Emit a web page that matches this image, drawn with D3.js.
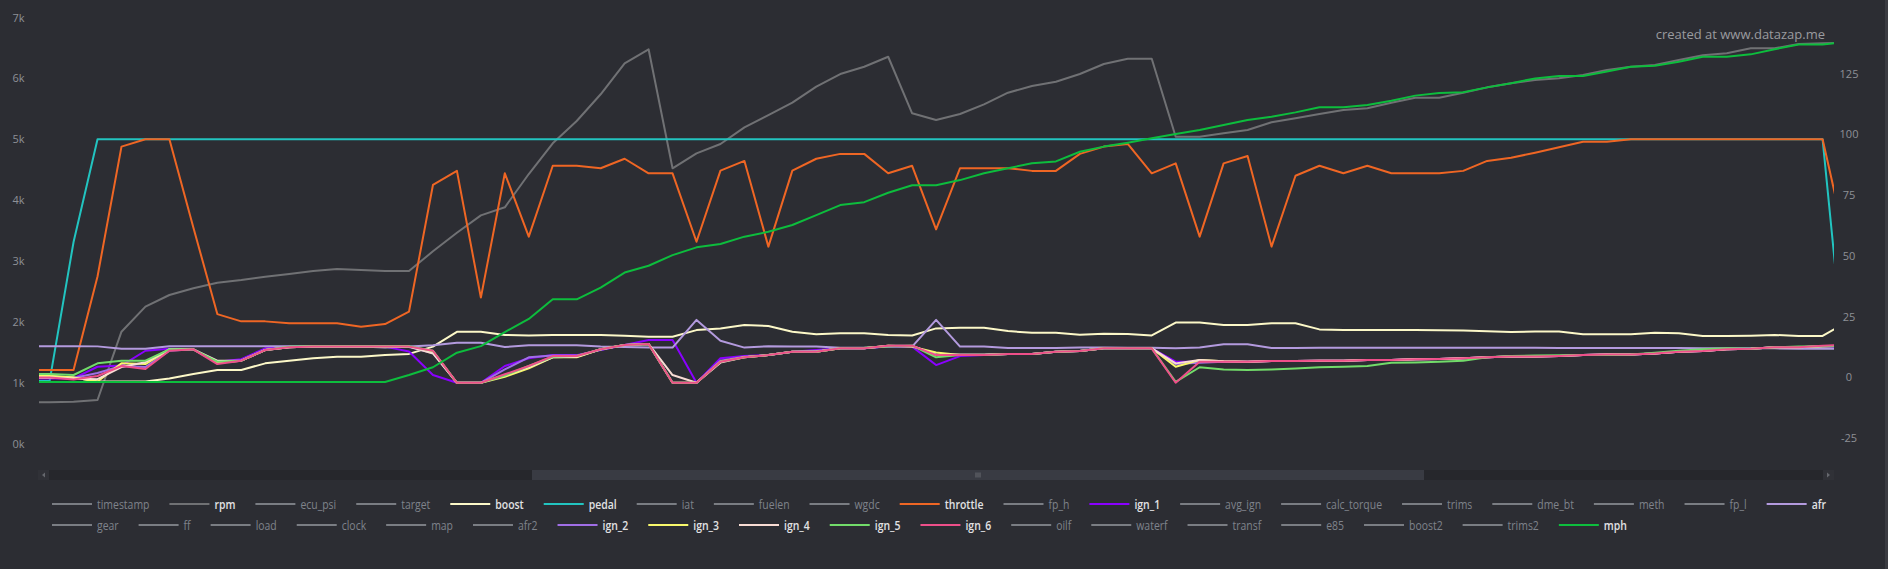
<!DOCTYPE html>
<html>
<head>
<meta charset="utf-8">
<script src="https://cdn.jsdelivr.net/npm/d3@7"></script>
<style>
  html, body { margin: 0; padding: 0; background: #2c2d33; overflow: hidden; }
  svg { display: block; }
</style>
</head>
<body>
<script>
// one sample every ~24px; first and last samples sit just outside the visible window
var rpm = [669, 669, 679, 707, 1829, 2240, 2432, 2542, 2634, 2678,
  2733, 2777, 2826, 2859, 2843, 2826, 2826, 3150, 3454, 3741,
  3873, 4420, 4924, 5291, 5730, 6239, 6469, 4514, 4760, 4913,
  5187, 5389, 5592, 5855, 6063, 6183, 6347, 5417, 5307, 5406,
  5565, 5756, 5866, 5937, 6063, 6227, 6315, 6315, 5033, 5033,
  5089, 5143, 5270, 5335, 5406, 5472, 5499, 5592, 5674, 5674,
  5756, 5844, 5910, 5964, 5992, 6047, 6129, 6183, 6211, 6293,
  6370, 6403, 6485, 6485, 6556, 6567, 6577];

var boost = [0.3, 0.3, -0.3, -2.0, -2.0, -2.0, -0.7, 1.1, 2.8, 2.8,
  5.5, 6.6, 7.6, 8.2, 8.2, 8.9, 9.4, 12.4, 18.5, 18.5,
  17.2, 17.0, 17.2, 17.2, 17.2, 16.9, 16.5, 16.5, 19.2, 19.9,
  21.3, 20.9, 18.5, 17.5, 17.9, 17.9, 17.2, 17.0, 19.9, 20.2,
  20.2, 18.8, 18.1, 18.1, 17.3, 17.7, 17.6, 17.0, 22.3, 22.3,
  21.3, 21.3, 22.0, 22.0, 19.5, 19.2, 19.2, 19.2, 19.2, 19.1,
  19.0, 18.7, 18.4, 18.6, 18.6, 17.5, 17.5, 17.5, 18.1, 17.9,
  16.8, 16.8, 16.9, 17.2, 16.8, 16.8, 22.5];

var pedal = [-1.8, -1.8, 55.5, 97.8, 97.8, 97.8, 97.8, 97.8, 97.8, 97.8,
  97.8, 97.8, 97.8, 97.8, 97.8, 97.8, 97.8, 97.8, 97.8, 97.8,
  97.8, 97.8, 97.8, 97.8, 97.8, 97.8, 97.8, 97.8, 97.8, 97.8,
  97.8, 97.8, 97.8, 97.8, 97.8, 97.8, 97.8, 97.8, 97.8, 97.8,
  97.8, 97.8, 97.8, 97.8, 97.8, 97.8, 97.8, 97.8, 97.8, 97.8,
  97.8, 97.8, 97.8, 97.8, 97.8, 97.8, 97.8, 97.8, 97.8, 97.8,
  97.8, 97.8, 97.8, 97.8, 97.8, 97.8, 97.8, 97.8, 97.8, 97.8,
  97.8, 97.8, 97.8, 97.8, 97.8, 97.8, -2.0];

var throttle = [2.8, 2.8, 2.8, 41.3, 94.8, 97.8, 97.8, 61.5, 25.8, 22.8,
  22.8, 22.0, 22.0, 22.0, 20.6, 21.7, 26.8, 79.0, 84.8, 32.6,
  83.8, 57.7, 86.9, 86.9, 85.9, 89.8, 83.8, 83.8, 55.6, 84.9,
  88.9, 53.6, 84.9, 89.8, 91.8, 91.8, 83.8, 86.9, 60.7, 85.9,
  85.9, 85.9, 84.8, 84.8, 91.8, 94.8, 95.9, 83.8, 87.9, 57.7,
  87.9, 90.9, 53.6, 82.8, 86.9, 83.8, 86.9, 83.8, 83.8, 83.8,
  84.8, 88.9, 90.2, 92.3, 94.5, 96.8, 96.8, 97.8, 97.8, 97.8,
  97.8, 97.8, 97.8, 97.8, 97.8, 97.8, 54.0];

var ign_1 = [-0.7, -0.7, -0.7, 4.1, 4.6, 10.7, 11.5, 11.3, 6.2, 7.2,
  11.7, 12.4, 12.4, 12.4, 12.4, 12.4, 10.4, 0.7, -2.5, -2.5,
  4.4, 7.6, 8.9, 8.9, 11.0, 13.1, 15.1, 15.1, -2.5, 7.6,
  8.5, 8.9, 10.3, 11.0, 11.7, 11.7, 12.4, 12.4, 4.8, 8.5,
  8.9, 9.4, 9.4, 10.3, 10.6, 11.7, 11.7, 11.7, 6.2, 6.2,
  6.2, 6.2, 6.5, 6.5, 6.6, 6.6, 6.9, 6.9, 7.2, 7.3,
  7.6, 8.0, 8.3, 8.3, 8.5, 8.9, 9.2, 9.2, 9.6, 10.3,
  10.6, 11.3, 11.5, 12.1, 12.1, 12.4, 12.4];

var afr = [12.6, 12.6, 12.6, 12.5, 11.5, 11.5, 12.6, 12.6, 12.6, 12.6,
  12.6, 12.6, 12.6, 12.6, 12.4, 12.0, 12.4, 13.0, 14.0, 14.0,
  12.2, 13.0, 13.0, 13.0, 12.4, 12.2, 12.0, 12.0, 23.4, 14.8,
  12.0, 12.6, 12.4, 12.4, 11.9, 11.9, 12.4, 12.4, 23.4, 12.4,
  12.4, 11.8, 11.8, 11.8, 12.0, 12.0, 11.9, 11.9, 11.7, 12.0,
  13.4, 13.4, 11.8, 11.8, 11.9, 11.9, 11.9, 11.9, 11.9, 11.9,
  11.9, 11.9, 11.9, 11.9, 11.8, 11.8, 11.8, 11.8, 11.8, 11.8,
  11.7, 11.7, 11.7, 11.7, 11.5, 11.5, 11.5];

var ign_2 = [-0.5, -0.5, -0.5, 1.5, 4.4, 4.0, 10.7, 11.3, 5.8, 6.6,
  11.0, 12.1, 12.4, 12.4, 12.4, 12.4, 12.2, 9.8, -2.5, -2.5,
  3.0, 8.0, 8.7, 8.7, 11.1, 13.1, 13.5, -2.5, -2.5, 6.6,
  8.2, 8.9, 10.3, 10.6, 11.7, 11.7, 12.6, 12.6, 9.2, 8.9,
  8.9, 9.4, 9.4, 10.3, 10.6, 11.7, 11.7, 11.7, 5.2, 5.8,
  6.2, 6.2, 6.5, 6.5, 6.6, 6.6, 6.9, 6.9, 7.2, 7.3,
  7.6, 8.0, 8.3, 8.3, 8.5, 8.9, 9.2, 9.2, 9.6, 10.3,
  10.6, 11.3, 11.5, 12.1, 12.1, 12.4, 12.6];

var ign_3 = [0.3, 0.3, -0.3, -2.0, 5.5, 5.2, 11.3, 11.3, 5.8, 6.6,
  11.0, 12.1, 12.4, 12.4, 12.4, 12.4, 12.4, 10.4, -2.5, -2.5,
  0.0, 3.5, 8.0, 8.0, 11.3, 13.1, 13.5, -2.5, -2.5, 6.2,
  8.0, 8.9, 10.3, 10.3, 11.7, 11.7, 12.8, 12.4, 10.0, 8.9,
  8.9, 9.4, 9.4, 10.3, 10.6, 11.7, 11.7, 11.7, 4.1, 6.9,
  6.4, 6.2, 6.5, 6.5, 6.6, 6.6, 6.9, 6.9, 7.2, 7.3,
  7.6, 8.0, 8.3, 8.3, 8.5, 8.9, 9.2, 9.2, 9.6, 10.3,
  10.6, 11.3, 11.5, 12.1, 12.1, 12.6, 12.8];

var ign_4 = [-0.3, -0.3, -0.7, -1.0, 4.0, 6.0, 11.3, 11.3, 6.6, 6.6,
  11.0, 12.1, 12.4, 12.4, 12.4, 12.4, 12.4, 9.6, -2.5, -2.5,
  0.7, 4.0, 8.0, 8.2, 11.3, 13.1, 13.5, 0.7, -2.5, 5.8,
  8.0, 8.9, 10.3, 10.3, 11.7, 11.7, 12.8, 12.8, 8.9, 9.2,
  9.2, 9.4, 9.4, 10.3, 10.6, 11.7, 11.7, 11.7, 5.5, 6.9,
  6.4, 6.2, 6.5, 6.5, 6.6, 6.6, 6.9, 6.9, 7.2, 7.3,
  7.6, 8.0, 8.3, 8.3, 8.5, 8.9, 9.2, 9.2, 9.6, 10.3,
  10.6, 11.3, 11.5, 12.1, 12.1, 12.6, 12.8];

var ign_5 = [1.1, 1.1, 0.7, 5.5, 6.6, 6.6, 11.3, 11.3, 6.2, 6.6,
  11.0, 12.4, 12.6, 12.6, 12.6, 12.6, 12.6, 10.7, -2.5, -2.5,
  0.5, 4.4, 8.2, 8.5, 11.3, 13.1, 13.5, -2.5, -2.5, 6.2,
  8.0, 8.9, 10.3, 10.3, 11.7, 11.9, 12.4, 12.8, 8.0, 8.9,
  8.9, 9.4, 9.4, 10.3, 10.6, 11.7, 11.7, 11.7, -2.1, 3.9,
  3.0, 2.8, 3.0, 3.4, 3.9, 4.1, 4.4, 5.8, 5.9, 6.2,
  6.6, 8.0, 8.5, 8.7, 8.8, 8.9, 8.9, 9.2, 9.9, 10.7,
  11.3, 11.7, 11.5, 12.1, 12.4, 12.6, 12.8];

var ign_6 = [-0.3, -0.3, -1.1, 0.3, 4.4, 3.2, 10.7, 11.3, 5.2, 6.6,
  11.0, 12.1, 12.4, 12.4, 12.4, 12.4, 12.4, 10.7, -2.5, -2.5,
  1.0, 4.4, 8.5, 8.5, 11.3, 13.1, 13.5, -2.5, -2.5, 6.2,
  8.0, 8.9, 10.3, 10.3, 11.7, 11.7, 12.8, 12.8, 8.9, 8.9,
  8.9, 9.4, 9.4, 10.3, 10.6, 11.7, 11.7, 11.7, -2.5, 6.2,
  6.2, 6.2, 6.5, 6.5, 6.6, 6.6, 6.9, 6.9, 7.2, 7.3,
  7.6, 8.0, 8.3, 8.3, 8.5, 8.9, 9.2, 9.2, 9.6, 10.3,
  10.6, 11.3, 11.5, 12.1, 12.1, 12.8, 13.1];

var mph = [-2.2, -2.2, -2.2, -2.2, -2.2, -2.2, -2.2, -2.2, -2.2, -2.2,
  -2.2, -2.2, -2.2, -2.2, -2.2, -2.2, 0.7, 3.9, 9.9, 12.6,
  18.4, 23.8, 31.9, 31.9, 36.7, 42.9, 45.7, 50.1, 53.3, 54.7,
  57.7, 59.7, 62.5, 66.6, 70.7, 71.9, 75.8, 78.9, 78.9, 81.0,
  83.8, 85.9, 87.9, 88.7, 92.7, 94.8, 96.4, 98.2, 100.0, 101.6,
  103.7, 105.8, 107.1, 108.9, 111.0, 111.0, 111.9, 113.7, 115.8, 116.9,
  117.2, 119.2, 120.9, 122.9, 123.9, 123.9, 125.7, 127.7, 128.1, 129.8,
  131.8, 131.8, 132.8, 134.9, 136.9, 136.9, 138.0];

var leftTicks = [0, 1000, 2000, 3000, 4000, 5000, 6000, 7000];
var rightTicks = [-25, 0, 25, 50, 75, 100, 125];

var legendRow1 = ["timestamp", "rpm", "ecu_psi", "target", "boost", "pedal", "iat", "fuelen", "wgdc",
  "throttle", "fp_h", "ign_1", "avg_ign", "calc_torque", "trims", "dme_bt", "meth", "fp_l", "afr"];
var legendRow2 = ["gear", "ff", "load", "clock", "map", "afr2", "ign_2", "ign_3", "ign_4", "ign_5",
  "ign_6", "oilf", "waterf", "transf", "e85", "boost2", "trims2", "mph"];

// draw order = legend order, mph ends on top
var series = [
  {name: "rpm", values: rpm, color: "#707174", axis: "left"},
  {name: "boost", values: boost, color: "#fcf8c8", axis: "right"},
  {name: "pedal", values: pedal, color: "#22c4c0", axis: "right"},
  {name: "throttle", values: throttle, color: "#ef6624", axis: "right"},
  {name: "ign_1", values: ign_1, color: "#8a00ff", axis: "right"},
  {name: "afr", values: afr, color: "#b39ade", axis: "right"},
  {name: "ign_2", values: ign_2, color: "#a06ee6", axis: "right"},
  {name: "ign_3", values: ign_3, color: "#f8f86c", axis: "right"},
  {name: "ign_4", values: ign_4, color: "#f8dcd4", axis: "right"},
  {name: "ign_5", values: ign_5, color: "#72dc6a", axis: "right"},
  {name: "ign_6", values: ign_6, color: "#ee4f8a", axis: "right"},
  {name: "mph", values: mph, color: "#0dbd3d", axis: "right"}
];

var size = {width: 1888, height: 569};
var plot = {left: 39, right: 1834, top: 0, bottom: 466};

var svg = d3.select("body").append("svg")
            .attr("width", size.width)
            .attr("height", size.height);

svg.append("rect")
   .attr("width", size.width)
   .attr("height", size.height)
   .attr("fill", "#2c2d33");
svg.append("rect")
   .attr("x", 1885).attr("width", 3).attr("height", size.height)
   .attr("fill", "#3b3c42");

var x = d3.scaleLinear().domain([1, 75]).range([49.6, 1822.6]);
var yLeft = d3.scaleLinear().domain([0, 7000]).range([443, 17]);
var yRight = d3.scaleLinear().domain([-25, 125]).range([437.4, 73.3]);

var labelFont = "'Open Sans', 'DejaVu Sans', sans-serif";

// axis labels (no axis lines in the original)
svg.append("g").selectAll("text")
   .data(leftTicks)
   .enter().append("text")
   .attr("x", 18.5)
   .attr("y", d => yLeft(d))
   .attr("text-anchor", "middle")
   .attr("dominant-baseline", "central")
   .attr("fill", "#8e9096")
   .style("font", "11px " + labelFont)
   .text(d => (d / 1000) + "k");

svg.append("g").selectAll("text")
   .data(rightTicks)
   .enter().append("text")
   .attr("x", 1849)
   .attr("y", d => yRight(d))
   .attr("text-anchor", "middle")
   .attr("dominant-baseline", "central")
   .attr("fill", "#8e9096")
   .style("font", "11px " + labelFont)
   .text(d => d);

svg.append("text")
   .attr("x", 1825)
   .attr("y", 34)
   .attr("text-anchor", "end")
   .attr("dominant-baseline", "central")
   .attr("fill", "#9a9b9f")
   .style("font", "13px 'Open Sans', sans-serif")
   .text("created at www.datazap.me");

// lines
svg.append("clipPath").attr("id", "plotclip")
   .append("rect")
   .attr("x", plot.left).attr("y", plot.top)
   .attr("width", plot.right - plot.left)
   .attr("height", plot.bottom - plot.top);

var lines = svg.append("g").attr("clip-path", "url(#plotclip)");

series.forEach(function(s) {
  var yScale = s.axis === "left" ? yLeft : yRight;
  var line = d3.line()
               .x((d, i) => x(i))
               .y(d => yScale(d));
  lines.append("path")
       .datum(s.values)
       .attr("d", line)
       .attr("fill", "none")
       .attr("stroke", s.color)
       .attr("stroke-width", 2)
       .attr("stroke-linejoin", "round");
});

// data zoom slider
var slider = svg.append("g");
slider.append("rect")
      .attr("x", 38).attr("y", 470).attr("width", 1796).attr("height", 10)
      .attr("fill", "#26272c");
slider.append("rect")
      .attr("x", 532).attr("y", 470).attr("width", 892).attr("height", 10)
      .attr("fill", "#393b43");
[38, 1823].forEach(function(bx, k) {
  slider.append("rect")
        .attr("x", bx).attr("y", 470).attr("width", 11).attr("height", 10)
        .attr("fill", "#303137");
  var cx = bx + 5.5;
  var pts = k === 0 ? [[cx + 1.5, 472.5], [cx - 1.5, 475], [cx + 1.5, 477.5]]
                    : [[cx - 1.5, 472.5], [cx + 1.5, 475], [cx - 1.5, 477.5]];
  slider.append("path")
        .attr("d", d3.line()(pts) + "Z")
        .attr("fill", "#66686e");
});
[-2, 0, 2].forEach(function(dx) {
  slider.append("rect")
        .attr("x", 978 + dx - 0.5).attr("y", 472.5).attr("width", 1).attr("height", 5)
        .attr("fill", "#6a6c73");
});

// legend: the original uses a condensed face, so squeeze the text to fit the row
var colorOf = {};
series.forEach(s => colorOf[s.name] = s.color);

function buildRow(names, cy) {
  return names.map(function(name) {
    var on = colorOf[name] !== undefined;
    var line = svg.append("line")
       .attr("y1", cy).attr("y2", cy)
       .attr("stroke", on ? colorOf[name] : "#7a7d83")
       .attr("stroke-width", 2);
    var text = svg.append("text")
       .attr("y", cy)
       .attr("dominant-baseline", "central")
       .attr("fill", on ? "#e2e2e4" : "#7f838b")
       .style("font", (on ? "600 " : "") + "13px 'Open Sans', sans-serif")
       .text(name);
    return {line: line, text: text, w: text.node().getComputedTextLength()};
  });
}

var rows = [buildRow(legendRow1, 504), buildRow(legendRow2, 525)];
var fixed = legendRow1.length * 45 + (legendRow1.length - 1) * 20;
var squeeze = (1826 - 52 - fixed) / d3.sum(rows[0], d => d.w);

rows.forEach(function(items) {
  var cx = 52;
  items.forEach(function(it) {
    var w = it.w * squeeze;
    it.line.attr("x1", cx).attr("x2", cx + 40);
    it.text.attr("x", cx + 45)
           .attr("textLength", w)
           .attr("lengthAdjust", "spacingAndGlyphs");
    cx += 45 + w + 20;
  });
});
</script>
</body>
</html>
